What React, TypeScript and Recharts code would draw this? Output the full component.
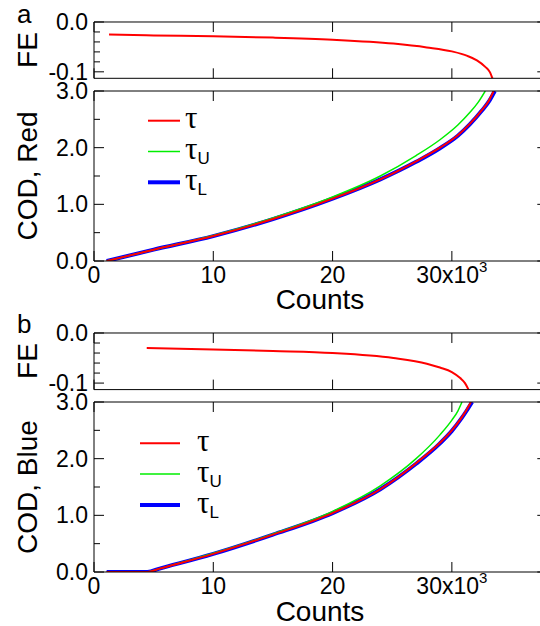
import React from 'react';
import { LineChart, Line, XAxis, YAxis } from 'recharts';

const FONT = '"Liberation Sans", Arial, Helvetica, sans-serif';
const TAU_FONT = '"Liberation Serif", "Times New Roman", serif';

// ---- axes ----
const countTicks = [0, 10, 20, 30];
const countTickLabels = ['0', '10', '20', '30x10^3'];
const countDomain: [number, number] = [0, 38];

const feTicks = [-0.1, -0.08, -0.06, -0.04, -0.02, 0];
const feTickLabels = ['-0.1', '', '', '', '', '0.0'];
const feDomain: [number, number] = [-0.113, 0];

const codTicks = [0, 0.5, 1, 1.5, 2, 2.5, 3];
const codTickLabels = ['0.0', '', '1.0', '', '2.0', '', '3.0'];
const codDomain: [number, number] = [0, 3];

// ---- panel a (Red) ---- counts in thousands
const feRedCounts = [1.26, 5, 10, 15, 20, 25.1, 27.9, 30, 31.3, 32.1, 32.8, 33.2, 33.4];
const feRedValues = [-0.0253, -0.027, -0.0287, -0.0313, -0.0355, -0.0433, -0.051, -0.059, -0.068, -0.077, -0.09, -0.101, -0.113];

const codRedTauCounts = [1.06, 5, 10, 15, 20, 24, 27, 29, 30.5, 31.5, 32.5, 33.1, 33.5];
const codRedTau = [0, 0.2, 0.44, 0.74, 1.1, 1.44, 1.76, 2.0, 2.22, 2.42, 2.66, 2.83, 3.0];
const codRedTauLCounts = [1.06, 5, 10, 15, 20, 24, 27, 29, 30.5, 31.5, 32.5, 33.15, 33.6];
const codRedTauL = [0, 0.2, 0.44, 0.74, 1.1, 1.44, 1.75, 1.99, 2.21, 2.41, 2.65, 2.83, 3.0];
const codRedTauUCounts = [1.06, 5, 10, 15, 20, 24, 27, 29, 30.5, 31.5, 32.2, 32.8];
const codRedTauU = [0, 0.2, 0.45, 0.76, 1.13, 1.5, 1.86, 2.14, 2.4, 2.62, 2.8, 3.0];

// ---- panel b (Blue) ----
const feBlueCounts = [4.42, 10, 15, 20, 25.1, 27.9, 29, 30, 30.7, 31.1, 31.4];
const feBlueValues = [-0.03, -0.0327, -0.036, -0.04, -0.05, -0.0613, -0.069, -0.078, -0.09, -0.1, -0.113];

const codBlueTauCounts = [1.06, 4.47, 5.5, 10, 15, 20, 24, 27, 29, 30, 30.8, 31.2, 31.6];
const codBlueTau = [0, 0, 0.06, 0.32, 0.66, 1.04, 1.46, 1.92, 2.28, 2.5, 2.72, 2.85, 3.0];
const codBlueTauLCounts = [1.06, 4.47, 5.5, 10, 15, 20, 24, 27, 29, 30, 30.8, 31.25, 31.7];
const codBlueTauL = [0, 0, 0.06, 0.32, 0.66, 1.04, 1.46, 1.91, 2.27, 2.49, 2.71, 2.85, 3.0];
const codBlueTauUCounts = [1.06, 4.47, 5.5, 10, 15, 20, 24, 27, 29, 30, 30.5, 30.85];
const codBlueTauU = [0, 0, 0.06, 0.33, 0.67, 1.07, 1.52, 2.0, 2.42, 2.68, 2.84, 3.0];

// ---- legend ----
const legendNames = ['τ', 'τ_U', 'τ_L'];
const legendColors = ['#ff0000', '#00ee00', '#0000ff'];
const legendWidths = [2, 1.5, 4];

const zip = (xs: number[], ys: number[]) => xs.map((x, i) => ({ x, y: ys[i] }));

const tickText = { fontFamily: FONT, fontSize: 23, fill: '#000' };

function labelFor(ticks: number[], labels: string[], v: number) {
  const i = ticks.findIndex((t) => Math.abs(t - v) < 1e-9);
  return i >= 0 ? labels[i] : '';
}

function renderTickLabel(label: string) {
  const [base, sup] = label.split('^');
  return (
    <>
      {base}
      {sup !== undefined && (
        <tspan dy={-9} fontSize={15}>
          {sup}
        </tspan>
      )}
    </>
  );
}

const LeftTick = (ticks: number[], labels: string[]) => (p: any) => {
  const { x, y, payload } = p;
  const label = labelFor(ticks, labels, payload.value);
  const major = label !== '';
  return (
    <g>
      <line x1={x} x2={x + (major ? 10 : 6)} y1={y} y2={y} stroke="#000" strokeWidth={1} />
      {major && (
        <text x={x - 6} y={y} textAnchor="end" dominantBaseline="central" {...tickText}>
          {label}
        </text>
      )}
    </g>
  );
};

const RightTick = (ticks: number[], labels: string[]) => (p: any) => {
  const { x, y, payload } = p;
  const label = labelFor(ticks, labels, payload.value);
  const major = label !== '';
  return <line x1={x} x2={x - (major ? 10 : 6)} y1={y} y2={y} stroke="#000" strokeWidth={1} />;
};

const BottomTick = (showLabels: boolean) => (p: any) => {
  const { x, y, payload } = p;
  const label = labelFor(countTicks, countTickLabels, payload.value);
  return (
    <g>
      <line x1={x} x2={x} y1={y} y2={y - 10} stroke="#000" strokeWidth={1} />
      {showLabels && (
        <text x={x} y={y + 14} textAnchor="middle" dominantBaseline="central" {...tickText}>
          {renderTickLabel(label)}
        </text>
      )}
    </g>
  );
};

const TopTick = (p: any) => {
  const { x, y } = p;
  return <line x1={x} x2={x} y1={y} y2={y + 10} stroke="#000" strokeWidth={1} />;
};

type Series = { data: { x: number; y: number }[]; color: string; width: number; name: string };

function Panel(props: {
  top: number;
  plotHeight: number;
  bottomSpace: number;
  yDomain: [number, number];
  yTicks: number[];
  yLabels: string[];
  series: Series[];
  showXLabels: boolean;
}) {
  const mt = 14;
  const { top, plotHeight, bottomSpace, yDomain, yTicks, yLabels, series, showXLabels } = props;
  const height = mt + plotHeight + bottomSpace;
  const axisLine = { stroke: '#000', strokeWidth: 1 };
  return (
    <div style={{ position: 'absolute', left: 0, top: top - mt }}>
      <LineChart width={560} height={height} margin={{ top: mt - 1, right: 11.7, bottom: bottomSpace - 1, left: 0 }}>
        <XAxis
          xAxisId="b"
          orientation="bottom"
          type="number"
          dataKey="x"
          domain={countDomain}
          ticks={countTicks}
          interval={0}
          allowDataOverflow
          height={1}
          tickSize={0}
          tickMargin={0}
          tickLine={false}
          axisLine={axisLine}
          tick={BottomTick(showXLabels)}
        />
        <XAxis
          xAxisId="t"
          orientation="top"
          type="number"
          dataKey="x"
          domain={countDomain}
          ticks={countTicks}
          interval={0}
          allowDataOverflow
          height={1}
          tickSize={0}
          tickMargin={0}
          tickLine={false}
          axisLine={axisLine}
          tick={TopTick}
        />
        <YAxis
          yAxisId="l"
          orientation="left"
          type="number"
          domain={yDomain}
          ticks={yTicks}
          interval={0}
          allowDataOverflow
          width={94}
          tickSize={0}
          tickMargin={0}
          tickLine={false}
          axisLine={axisLine}
          tick={LeftTick(yTicks, yLabels)}
        />
        <YAxis
          yAxisId="r"
          orientation="right"
          type="number"
          domain={yDomain}
          ticks={yTicks}
          interval={0}
          allowDataOverflow
          width={1}
          tickSize={0}
          tickMargin={0}
          tickLine={false}
          axisLine={axisLine}
          tick={RightTick(yTicks, yLabels)}
        />
        {series.map((s) => (
          <Line
            key={s.name}
            name={s.name}
            xAxisId="b"
            yAxisId="l"
            data={s.data}
            dataKey="y"
            type="monotone"
            stroke={s.color}
            strokeWidth={s.width}
            dot={false}
            activeDot={false}
            isAnimationActive={false}
          />
        ))}
      </LineChart>
    </div>
  );
}

function LegendBlock({ lineX1, lineX2, textX, ys }: { lineX1: number; lineX2: number; textX: number; ys: number[] }) {
  return (
    <g>
      {legendNames.map((n, i) => {
        const [base, sub] = n.split('_');
        return (
          <g key={n}>
            <line x1={lineX1} x2={lineX2} y1={ys[i]} y2={ys[i]} stroke={legendColors[i]} strokeWidth={legendWidths[i]} />
            <text x={textX} y={ys[i] + 7.6} fontFamily={TAU_FONT} fontSize={31} fill="#000">
              {base}
              {sub && (
                <tspan dy={5} fontFamily={FONT} fontSize={17}>
                  {sub}
                </tspan>
              )}
            </text>
          </g>
        );
      })}
    </g>
  );
}

export default function App() {
  const redSeries: Series[] = [
    { name: 'τL', data: zip(codRedTauLCounts, codRedTauL), color: '#0000ff', width: 4 },
    { name: 'τU', data: zip(codRedTauUCounts, codRedTauU), color: '#00ee00', width: 1.5 },
    { name: 'τ', data: zip(codRedTauCounts, codRedTau), color: '#ff0000', width: 2 },
  ];
  const blueSeries: Series[] = [
    { name: 'τL', data: zip(codBlueTauLCounts, codBlueTauL), color: '#0000ff', width: 4 },
    { name: 'τU', data: zip(codBlueTauUCounts, codBlueTauU), color: '#00ee00', width: 1.5 },
    { name: 'τ', data: zip(codBlueTauCounts, codBlueTau), color: '#ff0000', width: 2 },
  ];
  const titleStyle = { fontFamily: FONT, fontSize: 28, fill: '#000' };
  return (
    <div style={{ position: 'absolute', left: 0, top: 0, width: 540, height: 626, overflow: 'hidden', background: '#fff' }}>
      <Panel
        top={21.7}
        plotHeight={56.3}
        bottomSpace={10}
        yDomain={feDomain}
        yTicks={feTicks}
        yLabels={feTickLabels}
        series={[{ name: 'FE', data: zip(feRedCounts, feRedValues), color: '#ff0000', width: 2 }]}
        showXLabels={false}
      />
      <Panel
        top={91}
        plotHeight={170}
        bottomSpace={32}
        yDomain={codDomain}
        yTicks={codTicks}
        yLabels={codTickLabels}
        series={redSeries}
        showXLabels={true}
      />
      <Panel
        top={332.7}
        plotHeight={56.6}
        bottomSpace={10}
        yDomain={feDomain}
        yTicks={feTicks}
        yLabels={feTickLabels}
        series={[{ name: 'FE', data: zip(feBlueCounts, feBlueValues), color: '#ff0000', width: 2 }]}
        showXLabels={false}
      />
      <Panel
        top={402}
        plotHeight={170}
        bottomSpace={32}
        yDomain={codDomain}
        yTicks={codTicks}
        yLabels={codTickLabels}
        series={blueSeries}
        showXLabels={true}
      />
      <svg width={540} height={626} style={{ position: 'absolute', left: 0, top: 0, pointerEvents: 'none' }}>
        <text x={17} y={23} fontFamily={FONT} fontSize={26} fill="#000">a</text>
        <text x={17} y={333} fontFamily={FONT} fontSize={26} fill="#000">b</text>
        <text transform="translate(37,50) rotate(-90)" textAnchor="middle" {...titleStyle}>FE</text>
        <text transform="translate(37,176) rotate(-90)" textAnchor="middle" {...titleStyle}>COD, Red</text>
        <text transform="translate(37,361) rotate(-90)" textAnchor="middle" {...titleStyle}>FE</text>
        <text transform="translate(37,487) rotate(-90)" textAnchor="middle" {...titleStyle}>COD, Blue</text>
        <text x={320} y={309} textAnchor="middle" {...titleStyle}>Counts</text>
        <text x={320} y={621} textAnchor="middle" {...titleStyle}>Counts</text>
        <LegendBlock lineX1={148} lineX2={180} textX={185} ys={[120.7, 151.5, 182.3]} />
        <LegendBlock lineX1={140} lineX2={180} textX={197} ys={[443.3, 474.1, 505]} />
      </svg>
    </div>
  );
}
